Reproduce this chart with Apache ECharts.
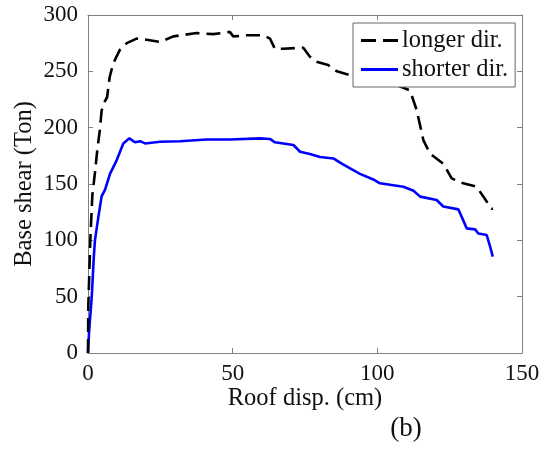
<!DOCTYPE html>
<html>
<head>
<meta charset="utf-8">
<script src="https://cdn.jsdelivr.net/npm/echarts@6/dist/echarts.min.js"></script>
<style>html,body{margin:0;padding:0;background:#fff;}#c{width:545px;height:450px;}</style>
</head>
<body>
<div id="c"></div>
<script>
var xTicks = [0, 50, 100, 150];
var yTicks = [0, 50, 100, 150, 200, 250, 300];
var longerX = [0,0.1,0.8,1.5,2.4,3.2,4.1,4.7,5.5,6.6,7.5,8.7,11,13.4,16.8,20.3,24.9,29.5,37.6,43.3,49,50.2,54.9,60.6,62.9,64.6,67.5,74.4,76.7,79,83,86,90.6,98,105.5,111.3,113.6,115.9,118.2,122.8,125.7,129.7,134.3,136.6,139.5,140];
var longerY = [0,41,100,140,160,180,198,215,222,227,245,257,269,275,279,278,276,281,284,283,285,281,282,282,279,270,270,271,263,258.5,255.6,250,246.6,246,239,233,215.6,189,177,168,155,150.6,147.6,139,128,128];
var shorterX = [0,0.4,1.3,2,2.4,3.6,4.7,5.9,7.6,9.9,12.2,14.3,16.2,18,19.7,24.9,31.8,41,49,59.5,62.9,64.6,71,73.3,76.7,80.2,84.8,87.7,90.6,94,98.6,100.9,109,112.5,114.8,120.5,122.8,128,130.9,133.8,134.9,137.8,139,139.9];
var shorterY = [0,20,50,85,100,121,139,145,159,171,186,190.5,187,188,186,187.5,188,189.5,189.5,190.5,190,187,184.6,178.6,176.6,174,172.7,168,163.8,159,154,150.6,147.6,144,138.8,135.8,130,127.5,110.6,109.7,106,104.7,94.3,85.5];

function zip(a, b) { return a.map(function (v, i) { return [v, b[i]]; }); }

var font = 'Liberation Serif';
var axisCol = '#808080';
var chart = echarts.init(document.getElementById('c'));
var baseX = {
  type: 'value', min: 0, max: 150, interval: 50,
  axisLine: { show: true, onZero: false, lineStyle: { color: axisCol, width: 1 } },
  axisTick: { show: true, inside: true, length: 5, lineStyle: { color: axisCol } },
  splitLine: { show: false }
};
var baseY = {
  type: 'value', min: 0, max: 300, interval: 50,
  axisLine: { show: true, onZero: false, lineStyle: { color: axisCol, width: 1 } },
  axisTick: { show: true, inside: true, length: 5, lineStyle: { color: axisCol } },
  splitLine: { show: false }
};
chart.setOption({
  animation: false,
  backgroundColor: '#fff',
  grid: { left: 88, right: 23, top: 15, bottom: 97, containLabel: false },
  xAxis: [
    Object.assign({}, baseX, { position: 'bottom', axisLabel: { show: true, margin: 9, color: '#111', fontFamily: font, fontSize: 23 } }),
    Object.assign({}, baseX, { position: 'top', axisLabel: { show: false } })
  ],
  yAxis: [
    Object.assign({}, baseY, { position: 'left', axisLabel: { show: true, margin: 10, color: '#111', fontFamily: font, fontSize: 23 } }),
    Object.assign({}, baseY, { position: 'right', axisLabel: { show: false } })
  ],
  legend: {
    show: true, left: 353, top: 23, orient: 'vertical',
    backgroundColor: '#fff', borderColor: '#666', borderWidth: 1,
    padding: [5, 7, 5, 8], itemGap: 4, itemWidth: 37, itemHeight: 3,
    textStyle: { fontFamily: font, fontSize: 24.5, color: '#111', padding: [0, 0, 0, -1] },
    data: [
      { name: 'longer dir.', icon: 'path://M0,0h15v3h-15z M22,0h15v3h-15z', itemStyle: { color: '#000' } },
      { name: 'shorter dir.', icon: 'path://M0,0h37v3h-37z', itemStyle: { color: '#0000ff' } }
    ]
  },
  series: [
    {
      name: 'longer dir.', type: 'line', data: zip(longerX, longerY),
      showSymbol: false, symbol: 'none', z: 3,
      lineStyle: { color: '#000', width: 2.6, type: [14, 7] }, itemStyle: { color: '#000' }
    },
    {
      name: 'shorter dir.', type: 'line', data: zip(shorterX, shorterY),
      showSymbol: false, symbol: 'none', z: 2,
      lineStyle: { color: '#0000ff', width: 2.6 }, itemStyle: { color: '#0000ff' }
    }
  ],
  graphic: [
    { type: 'text', x: 305, y: 399, style: { text: 'Roof disp. (cm)', font: '24.5px "Liberation Serif"', fill: '#111', textAlign: 'center', textVerticalAlign: 'middle' } },
    { type: 'text', x: 406, y: 429, style: { text: '(b)', font: '27px "Liberation Serif"', fill: '#111', textAlign: 'center', textVerticalAlign: 'middle' } },
    { type: 'text', x: 25, y: 184, rotation: Math.PI / 2, style: { text: 'Base shear (Ton)', font: '24.5px "Liberation Serif"', fill: '#111', textAlign: 'center', textVerticalAlign: 'middle' } }
  ]
});
</script>
</body>
</html>
